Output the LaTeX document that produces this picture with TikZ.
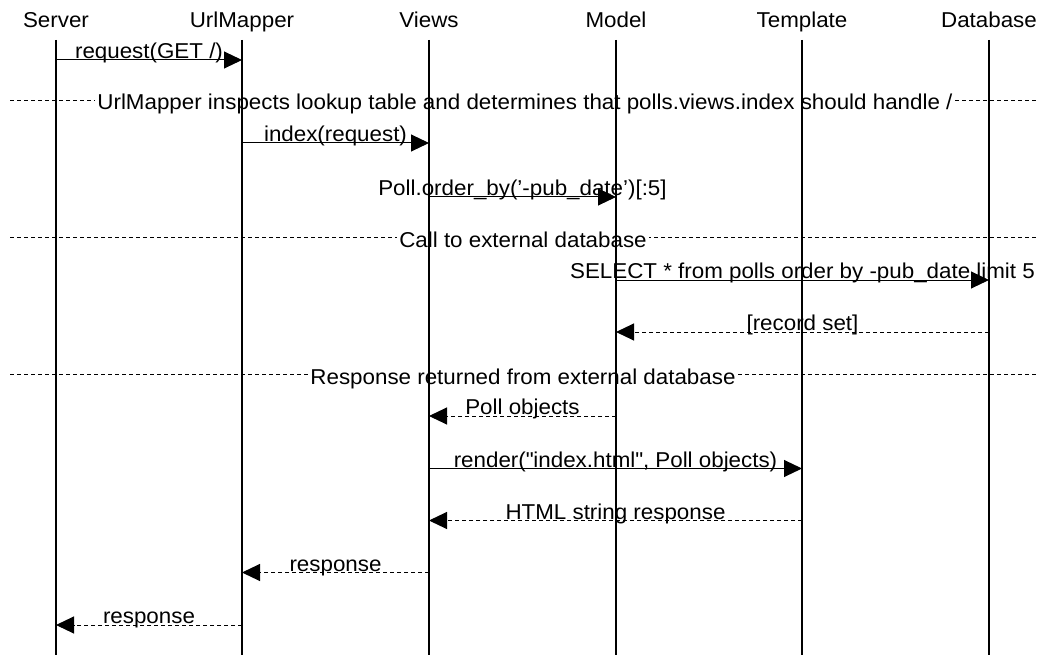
\documentclass[tikz,border=0pt]{standalone}
\usepackage{fontspec}
\setmainfont{Liberation Sans}[FakeStretch=1.04]
\usetikzlibrary{arrows.meta}

\begin{document}
\begin{tikzpicture}[x=1pt,y=-1pt,
  font=\fontsize{21.5}{24}\selectfont,
  head/.style={anchor=base,inner sep=0pt},
  life/.style={line width=1.4pt},
  call/.style={line width=1pt,-{Triangle[length=18pt,width=17pt]}},
  reply/.style={call,dash pattern=on 4pt off 3pt},
  lbl/.style={midway,anchor=base,yshift=1.5pt,inner sep=0pt},
  divider/.style={line width=0.8pt,dash pattern=on 4pt off 3pt},
  note/.style={anchor=base,fill=white,inner xsep=2pt,inner ysep=0pt,yshift=-10pt}]
\useasboundingbox (0,0) rectangle (1039,655);

\node[head] (srv) at (56,28) {Server};
\node[head] (url) at (242,28) {UrlMapper};
\node[head] (views) at (429,28) {Views};
\node[head] (model) at (616,28) {Model};
\node[head] (tmpl) at (802,28) {Template};
\node[head] (db) at (989,28) {Database};
\coordinate (bot) at (0,655);

\coordinate (d1l) at (10,100);
\coordinate (d1r) at (1039,100);
\coordinate (d2l) at (10,237.5);
\coordinate (d2r) at (1039,237.5);
\coordinate (d3l) at (10,374);
\coordinate (d3r) at (1039,374);
\draw[divider] (d1l) -- (d1r);
\draw[divider] (d2l) -- (d2r);
\draw[divider] (d3l) -- (d3r);
\node[note] (n1) at (525,100) {UrlMapper inspects lookup table and determines that polls.views.index should handle /};
\node[note] (n2) at (523,237.5) {Call to external database};
\node[note] (n3) at (523,374) {Response returned from external database};

\coordinate (m1) at (0,60);
\coordinate (m2) at (0,143);
\coordinate (m3) at (0,197);
\coordinate (m4) at (0,280);
\coordinate (m5) at (0,332);
\coordinate (m6) at (0,416);
\coordinate (m7) at (0,468.5);
\coordinate (m8) at (0,520.5);
\coordinate (m9) at (0,572.5);
\coordinate (m10) at (0,625);

\draw[call] (srv |- m1) -- (url |- m1) node[lbl] {request(GET /)};
\draw[call] (url |- m2) -- (views |- m2) node[lbl] {index(request)};
\draw[call] (views |- m3) -- (model |- m3) node[lbl] {Poll.order\_by(’-pub\_date’)[:5]};
\draw[call] (model |- m4) -- (db |- m4) node[lbl] {SELECT * from polls order by -pub\_date limit 5};
\draw[reply] (db |- m5) -- (model |- m5) node[lbl] {[record set]};
\draw[reply] (model |- m6) -- (views |- m6) node[lbl] {Poll objects};
\draw[call] (views |- m7) -- (tmpl |- m7) node[lbl] {render(\textquotedbl index.html\textquotedbl, Poll objects)};
\draw[reply] (tmpl |- m8) -- (views |- m8) node[lbl] {HTML string response};
\draw[reply] (views |- m9) -- (url |- m9) node[lbl] {response};
\draw[reply] (url |- m10) -- (srv |- m10) node[lbl] {response};

\foreach \n in {srv,url,views,model,tmpl,db}
  \draw[life] ([yshift=-12pt]\n.base) -- (\n.base |- bot);
\end{tikzpicture}
\end{document}
